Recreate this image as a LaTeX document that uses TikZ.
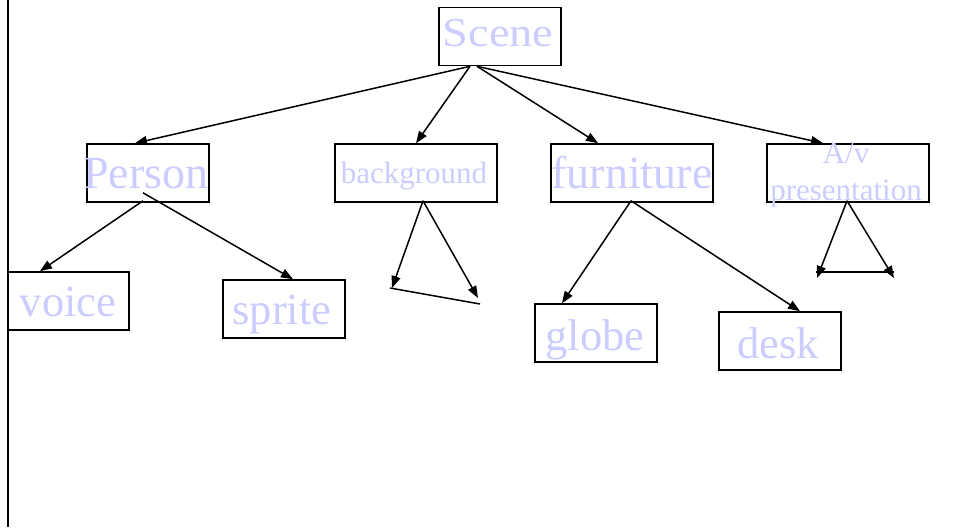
\documentclass[tikz,border=0pt]{standalone}
\usepackage{fontspec}
\setmainfont{Liberation Serif}
\usetikzlibrary{arrows.meta}
\definecolor{lav}{HTML}{CCCCFF}
\tikzset{
  box/.style={draw=black,line width=1.6pt,minimum width=122pt,minimum height=58pt,inner sep=0pt},
  widebox/.style={box,minimum width=162pt},
  big/.style={font=\fontsize{46}{50}\selectfont,text=lav,inner sep=0pt,anchor=base},
  mid/.style={font=\fontsize{44.5}{50}\selectfont,text=lav,inner sep=0pt,anchor=base},
  small/.style={font=\fontsize{31}{34}\selectfont,text=lav,inner sep=0pt,anchor=base},
  arr/.style={line width=1.5pt,-{Triangle[length=12pt,width=9pt]}},
  ln/.style={line width=1.5pt},
}
\begin{document}
\begin{tikzpicture}[x=1pt,y=-1pt]
\useasboundingbox (0,0) rectangle (957,527);
\coordinate (vt) at (8,0);
\coordinate (vb) at (8,527);
\draw[ln] (vt) -- (vb);

\node[box] (scene) at (500,36.5) {};
\node[font=\fontsize{41}{44}\selectfont,text=lav,inner sep=0pt,anchor=base,xscale=1.13] (scenet) at (498,46) {Scene};
\node[box] (person) at (148,173) {};
\node[big] (persont) at (146,188) {Person};
\node[widebox] (bg) at (416,173) {};
\node[small] (bgt) at (414,183) {background};
\node[widebox] (furn) at (632,173) {};
\node[big] (furnt) at (632,188) {furniture};
\node[widebox] (av) at (848,173) {};
\node[small] (avt1) at (846,163) {A/v};
\node[small] (avt2) at (846,200) {presentation};
\node[box,minimum width=121pt] (voice) at (68.5,301) {};
\node[mid] (voicet) at (68,316) {voice};
\node[box] (sprite) at (284,309) {};
\node[mid] (spritet) at (282,324) {sprite};
\node[box] (globe) at (596,333) {};
\node[mid] (globet) at (595,350) {globe};
\node[box] (desk) at (780,341) {};
\node[mid] (deskt) at (778,358) {desk};

% Scene children
\draw[arr] ([xshift=-30pt]scene.south) -- ([xshift=-13pt]person.north);
\draw[arr] ([xshift=-30pt]scene.south) -- (bg.north);
\draw[arr] ([xshift=-23pt]scene.south) -- ([xshift=-34pt]furn.north);
\draw[arr] ([xshift=-23pt]scene.south) -- ([xshift=-25pt]av.north);

% Person children
\draw[arr] ([xshift=-5pt,yshift=2pt]person.south) -- ([xshift=-28.5pt]voice.north);
\draw[arr] ([xshift=-5pt,yshift=10pt]person.south) -- ([xshift=9pt]sprite.north);

% background
\coordinate (bl) at (392,288);
\coordinate (br) at (478,298);
\coordinate (bla) at (390,288);
\coordinate (blb) at (480,304);
\draw[arr] ([xshift=7pt,yshift=2pt]bg.south) -- (bl);
\draw[arr] ([xshift=7pt,yshift=2pt]bg.south) -- (br);
\draw[ln] (bla) -- (blb);

% furniture
\draw[arr] ([xshift=-1pt,yshift=2pt]furn.south) -- ([xshift=-34pt]globe.north);
\draw[arr] ([xshift=-1pt,yshift=2pt]furn.south) -- ([xshift=20pt]desk.north);

% A/v
\coordinate (al) at (817,278);
\coordinate (ar) at (894,278);
\coordinate (ala) at (816,272);
\coordinate (alb) at (894,272);
\draw[arr] ([xshift=-1pt,yshift=2pt]av.south) -- (al);
\draw[arr] ([xshift=-1pt,yshift=2pt]av.south) -- (ar);
\draw[ln] (ala) -- (alb);
\end{tikzpicture}
\end{document}
